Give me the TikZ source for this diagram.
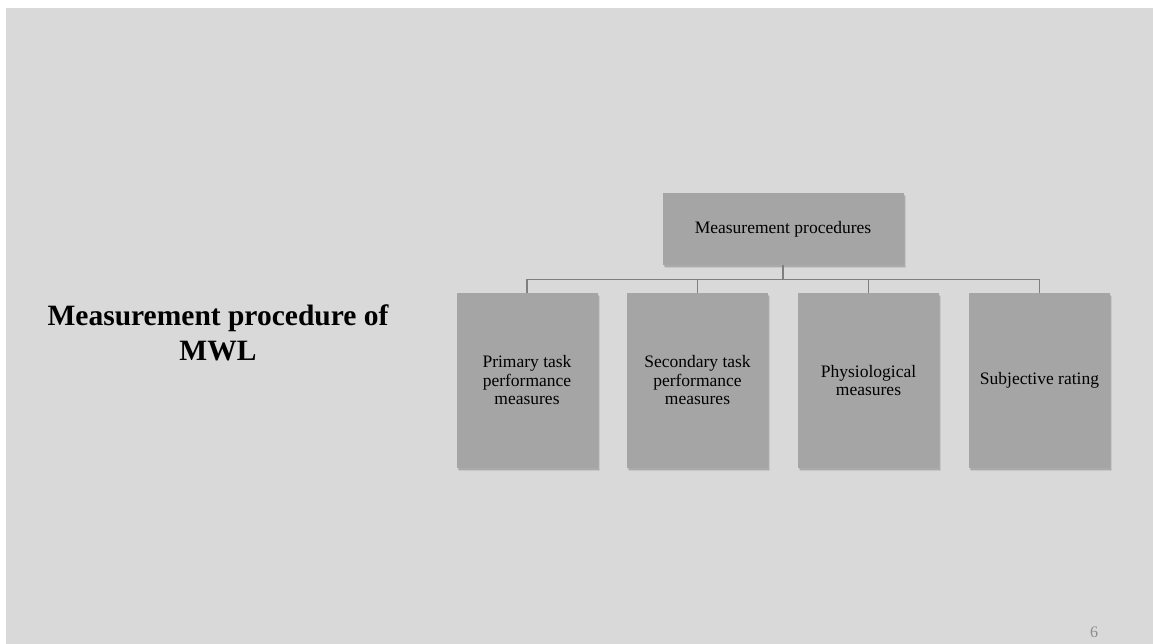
\documentclass[tikz,border=0pt]{standalone}
\usepackage{fontspec}
\setmainfont{Liberation Serif}
\usetikzlibrary{shadows}
\definecolor{slidebg}{HTML}{D9D9D9}
\definecolor{boxfill}{HTML}{A5A5A5}
\definecolor{linkgray}{HTML}{7F7F7F}
\definecolor{pagegray}{HTML}{8C8C8C}
\begin{document}
\begin{tikzpicture}[x=1pt,y=-1pt,
  boxshade/.style={
    drop shadow={shadow xshift=2.2pt,shadow yshift=-2.8pt,opacity=0.08,fill=black},
    drop shadow={shadow xshift=1.4pt,shadow yshift=-1.8pt,opacity=0.14,fill=black}},
  toptier/.style={fill=boxfill, minimum width=241pt, minimum height=72pt, inner sep=0pt,
    font=\fontsize{17.5}{18.5}\selectfont, boxshade},
  leaf/.style={fill=boxfill, minimum width=141pt, minimum height=175pt, inner sep=0pt,
    align=center, font=\fontsize{17.5}{18.5}\selectfont, boxshade},
  link/.style={draw=linkgray, line width=1.3pt}]
\useasboundingbox (0,0) rectangle (1153,644);
% slide background
\fill[white] (0,0) rectangle (1153,644);
\fill[slidebg] (6,8) rectangle (1153,644);

% slide title
\node[font=\bfseries\fontsize{29.5}{35.5}\selectfont, align=center] (title) at (218,333)
  {Measurement procedure of\\MWL};

% hierarchy
\node[toptier] (top) at (783,229) {Measurement procedures};
\node[leaf] (l1) at (527,380.5) {Primary task\\performance\\measures};
\node[leaf] (l2) at (697.5,380.5) {Secondary task\\performance\\measures};
\node[leaf] (l3) at (868.5,380.5) {Physiological\\measures};
\node[leaf] (l4) at (1039.5,380.5) {Subjective rating};

\foreach \k in {l1,l2,l3,l4}
  \draw[link] (top.south) -- ++(0,14) -| (\k.north);

% page number
\node[text=pagegray, font=\fontsize{16}{18}\selectfont] (pg) at (1094,632) {6};
\end{tikzpicture}
\end{document}
